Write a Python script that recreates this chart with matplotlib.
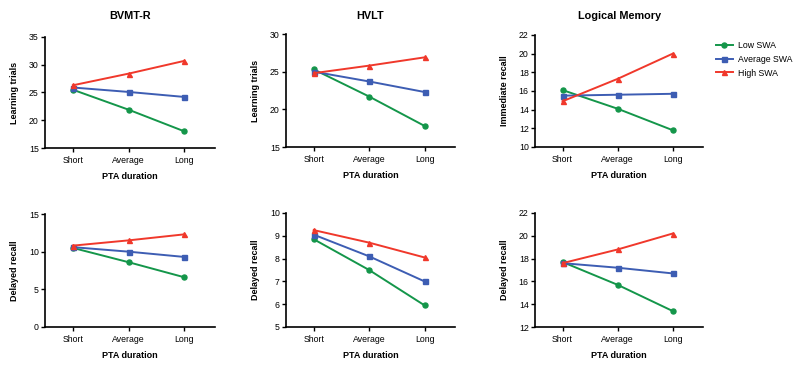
import numpy as np
import matplotlib.pyplot as plt

plt.rcParams['font.family'] = ['Liberation Sans', 'DejaVu Sans']

durations = ["Short", "Average", "Long"]
groups = ["Low SWA", "Average SWA", "High SWA"]

# learning / immediate recall (top row)
bvmt_learn = {"Low SWA": [25.5, 21.9, 18.0], "Average SWA": [25.9, 25.1, 24.2], "High SWA": [26.3, 28.4, 30.7]}
hvlt_learn = {"Low SWA": [25.3, 21.7, 17.8], "Average SWA": [25.0, 23.7, 22.3], "High SWA": [24.8, 25.8, 26.9]}
lm_immediate = {"Low SWA": [16.1, 14.1, 11.8], "Average SWA": [15.5, 15.6, 15.7], "High SWA": [14.9, 17.3, 20.0]}

# delayed recall (bottom row)
bvmt_delayed = {"Low SWA": [10.5, 8.6, 6.6], "Average SWA": [10.6, 10.0, 9.3], "High SWA": [10.8, 11.5, 12.3]}
hvlt_delayed = {"Low SWA": [8.85, 7.5, 5.95], "Average SWA": [9.05, 8.1, 7.0], "High SWA": [9.25, 8.7, 8.05]}
lm_delayed = {"Low SWA": [17.7, 15.7, 13.4], "Average SWA": [17.6, 17.2, 16.7], "High SWA": [17.6, 18.8, 20.2]}

styles = {
    "Low SWA": dict(color="#14964a", marker="o"),
    "Average SWA": dict(color="#3d5db3", marker="s"),
    "High SWA": dict(color="#f0382b", marker="^"),
}

panels = [
    # data, title, ylabel, ylim, yticks, (left px, top px, right px, bottom px)
    (bvmt_learn, "BVMT-R", "Learning trials", (15, 35), [15, 20, 25, 30, 35], (45, 37, 215, 148)),
    (hvlt_learn, "HVLT", "Learning trials", (15, 30), [15, 20, 25, 30], (286, 34, 455, 147)),
    (lm_immediate, "Logical Memory", "Immediate recall", (10, 22), [10, 12, 14, 16, 18, 20, 22], (535, 35, 703, 147)),
    (bvmt_delayed, None, "Delayed recall", (0, 15), [0, 5, 10, 15], (45, 214, 215, 327)),
    (hvlt_delayed, None, "Delayed recall", (5, 10), [5, 6, 7, 8, 9, 10], (286, 213, 455, 327)),
    (lm_delayed, None, "Delayed recall", (12, 22), [12, 14, 16, 18, 20, 22], (535, 213, 703, 327)),
]

W, H = 800, 369
fig = plt.figure(figsize=(W / 100, H / 100), dpi=100)
x = np.arange(len(durations))

for data, title, ylabel, ylim, yticks, (l, t, r, b) in panels:
    ax = fig.add_axes([l / W, 1 - b / H, (r - l) / W, (b - t) / H])
    for g in groups:
        ax.plot(x, data[g], lw=1.4, ms=3.6, label=g, **styles[g])
    ax.set_xlim(-0.5, 2.55)
    ax.set_ylim(*ylim)
    ax.set_yticks(yticks)
    ax.set_xticks(x)
    ax.set_xticklabels(durations)
    for s in ["top", "right"]:
        ax.spines[s].set_visible(False)
    for s in ["left", "bottom"]:
        ax.spines[s].set_linewidth(1.2)
    ax.tick_params(direction="out", length=3, width=1, labelsize=6.3, pad=1.5)
    ax.tick_params(axis="x", pad=3)
    ax.set_ylabel(ylabel, fontsize=6.5, fontweight="bold", labelpad=7)
    ax.set_xlabel("PTA duration", fontsize=6.5, fontweight="bold", labelpad=5)
    if title:
        fig.text((l + r) / 2 / W, 1 - 16 / H, title, ha="center", va="center",
                 fontsize=7.8, fontweight="bold")
    if title == "Logical Memory":
        handles, labels = ax.get_legend_handles_labels()

fig.legend(handles, labels, loc="upper left", bbox_to_anchor=(708 / W, 1 - 33 / H),
           frameon=False, fontsize=6.3, handlelength=1.9, labelspacing=0.55, handletextpad=0.6)

fig.savefig("out.png", dpi=100, facecolor="white")
